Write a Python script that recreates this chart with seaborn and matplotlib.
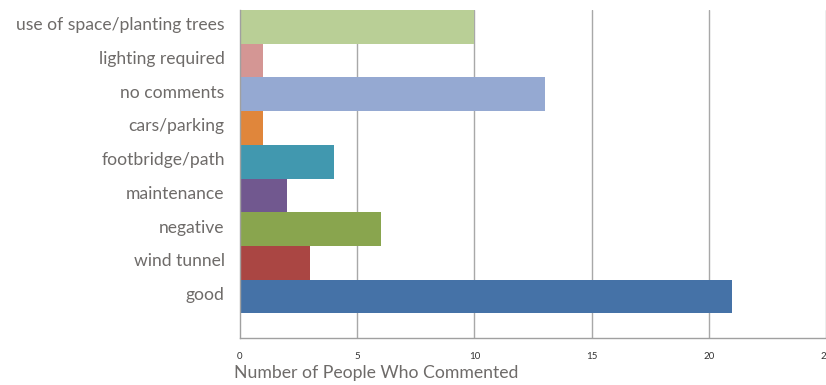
import matplotlib
matplotlib.use("Agg")
import matplotlib.pyplot as plt
import matplotlib.transforms as mtransforms
import seaborn as sns
import pandas as pd

categories = ["use of space/planting trees", "lighting required", "no comments",
              "cars/parking", "footbridge/path", "maintenance", "negative",
              "wind tunnel", "good"]
values = [10, 1, 13, 1, 4, 2, 6, 3, 21]
colors = ["#B9CF96", "#D49694", "#95A9D2", "#E0863B", "#4198AF",
          "#71588F", "#89A54E", "#AA4643", "#4572A7"]
xticks = [0, 5, 10, 15, 20, 25]
xlabel = "Number of People Who Commented"

sns.set_theme(style="white")
plt.rcParams['font.family'] = ['Lato', 'DejaVu Sans']

df = pd.DataFrame({"category": categories, "value": values})

fig = plt.figure(figsize=(8.26, 3.85), dpi=100)
ax = fig.add_axes([240/826, 1-338/385, 1-240/826, (338-10)/385])

sns.barplot(data=df, y="category", x="value", hue="category", palette=colors,
            order=categories, hue_order=categories, width=1.0, saturation=1,
            legend=False, ax=ax, orient="h", linewidth=0)

ax.set_xlim(0, 25)
ax.set_ylim(9.23, -0.5)
ax.set_xticks(xticks)
ax.set_xticklabels([str(t) for t in xticks], fontsize=7, color="#333333")
ax.tick_params(axis="x", direction="out", length=4, width=0.8, color="#A0A0A0", pad=6)
ax.tick_params(axis="y", length=0, pad=11, labelsize=12.6, labelcolor="#6E6B69")
offset = mtransforms.ScaledTranslation(0, 3/100, fig.dpi_scale_trans)
for lbl in ax.get_yticklabels():
    lbl.set_transform(lbl.get_transform() + offset)
for t in xticks[1:]:
    ax.axvline(t, color="#A8A8A8", lw=1.0, zorder=0)
for s in ["top", "right"]:
    ax.spines[s].set_visible(False)
for s in ["left", "bottom"]:
    ax.spines[s].set_color("#A0A0A0")
    ax.spines[s].set_linewidth(1.0)
ax.set_xlabel("")
ax.set_ylabel("")
ax.set_axisbelow(True)

fig.text(234/826, 1-373/385, xlabel, fontsize=12.7, color="#6E6B69",
         ha="left", va="center")

fig.savefig("out.png", dpi=100)
